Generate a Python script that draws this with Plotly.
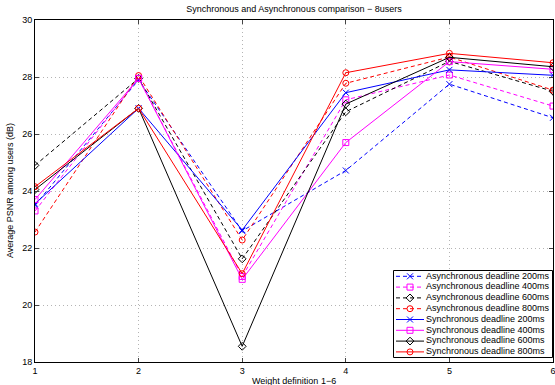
import plotly.graph_objects as go

x = [1, 2, 3, 4, 5, 6]

async_200 = [23.50, 27.90, 22.60, 24.72, 27.75, 26.57]
async_400 = [23.30, 27.95, 21.00, 27.20, 28.07, 26.98]
async_600 = [24.90, 27.95, 21.62, 26.78, 28.55, 27.50]
async_800 = [22.56, 28.05, 22.28, 27.78, 28.70, 27.54]
sync_200 = [23.55, 26.90, 22.63, 27.45, 28.25, 28.06]
sync_400 = [23.70, 27.95, 20.90, 25.70, 28.54, 28.27]
sync_600 = [24.05, 26.90, 18.55, 27.05, 28.69, 28.36]
sync_800 = [24.15, 26.90, 21.10, 28.15, 28.83, 28.50]

names = [
    "Asynchronous deadline 200ms", "Asynchronous deadline 400ms",
    "Asynchronous deadline 600ms", "Asynchronous deadline 800ms",
    "Synchronous deadline 200ms", "Synchronous deadline 400ms",
    "Synchronous deadline 600ms", "Synchronous deadline 800ms",
]
values = [async_200, async_400, async_600, async_800, sync_200, sync_400, sync_600, sync_800]
colors = ["#0000ff", "#ff00ff", "#000000", "#ff0000"] * 2
symbols = ["x-thin-open", "square-open", "diamond-open", "circle-open"] * 2
dashes = ["4px,3px"] * 4 + ["solid"] * 4

FONT_FAMILY = "Liberation Sans, Arial, sans-serif"
font = dict(family=FONT_FAMILY, size=9, color="#000000")

W, H = 555, 385
L, R, T, B = 35, 2, 20, 23
PW, PH = W - L - R, H - T - B

fig = go.Figure()
for name, vals, color, sym, dash in zip(names, values, colors, symbols, dashes):
    fig.add_trace(go.Scatter(
        x=x, y=vals, name=name, mode="lines+markers", showlegend=False,
        line=dict(color=color, width=1, dash=dash),
        marker=dict(symbol=sym, size=6, color=color, line=dict(color=color, width=1)),
    ))

# ---- custom compact legend (MATLAB style) on an overlay subplot ----
box_px = (393, 270, 553, 358)  # left, top, right, bottom in pixels
dx0 = (box_px[0] - L) / PW
dx1 = min(1.0, (box_px[2] - L) / PW)
dy0 = (T + PH - box_px[3]) / PH
dy1 = (T + PH - box_px[1]) / PH
bw = box_px[2] - box_px[0]
bh = box_px[3] - box_px[1]

fig.add_trace(go.Scatter(
    x=[0.5, bw - 0.5, bw - 0.5, 0.5, 0.5], y=[0.5, 0.5, bh - 0.5, bh - 0.5, 0.5],
    mode="lines", fill="toself", fillcolor="white",
    line=dict(color="black", width=1), xaxis="x2", yaxis="y2",
    showlegend=False, hoverinfo="skip",
))
for i, (name, color, sym, dash) in enumerate(zip(names, colors, symbols, dashes)):
    ry = 6.3 + 10.8 * i
    fig.add_trace(go.Scatter(
        x=[3, 31], y=[ry, ry], mode="lines", line=dict(color=color, width=1, dash=dash),
        xaxis="x2", yaxis="y2", showlegend=False, hoverinfo="skip",
    ))
    fig.add_trace(go.Scatter(
        x=[17], y=[ry], mode="markers",
        marker=dict(symbol=sym, size=6, color=color, line=dict(color=color, width=1)),
        xaxis="x2", yaxis="y2", showlegend=False, hoverinfo="skip",
    ))
    fig.add_trace(go.Scatter(
        x=[33], y=[ry], mode="text", text=[name], textposition="middle right",
        textfont=font, xaxis="x2", yaxis="y2", showlegend=False, hoverinfo="skip",
        cliponaxis=False,
    ))

grid = dict(showgrid=True, gridcolor="#b4b4b4", griddash="1px,3px", gridwidth=1)

fig.update_layout(
    width=W, height=H,
    margin=dict(l=L, r=R, t=T, b=B),
    paper_bgcolor="white", plot_bgcolor="white",
    font=font,
    title=dict(text="Synchronous and Asynchronous comparison \u2212 8users",
               xref="paper", x=0.5, xanchor="center", yref="container", y=1 - 9 / H, yanchor="middle",
               font=dict(family=FONT_FAMILY, size=9, color="#000000")),
    xaxis=dict(range=[1, 6], tickvals=[1, 2, 3, 4, 5, 6], ticks="inside", ticklen=4,
               showline=True, linecolor="black", linewidth=1, mirror="ticks",
               ticklabeloverflow="allow",
               zeroline=False, tickfont=font, automargin=False, **grid),
    yaxis=dict(range=[18, 30], tickvals=[18, 20, 22, 24, 26, 28, 30], ticks="inside", ticklen=4,
               showline=True, linecolor="black", linewidth=1, mirror="ticks",
               ticklabeloverflow="allow",
               zeroline=False, tickfont=font, automargin=False, **grid),
    xaxis2=dict(domain=[dx0, dx1], range=[0, bw], visible=False, fixedrange=True),
    yaxis2=dict(domain=[dy0, dy1], range=[bh, 0], visible=False, fixedrange=True),
    annotations=[
        dict(text="Weight definition 1\u22126", xref="paper", yref="paper",
             x=0.5, y=-(381 - (T + PH)) / PH, xanchor="center", yanchor="middle",
             showarrow=False, font=font),
        dict(text="Average PSNR among users (dB)", xref="paper", yref="paper",
             x=-(L - 10) / PW, y=0.5, xanchor="center", yanchor="middle",
             textangle=-90, showarrow=False, font=font),
    ],
    showlegend=False,
)

fig.write_html(
    "out.html",
    config={"displayModeBar": False},
    post_script="document.body.style.margin='0';document.body.style.overflow='hidden';",
)
